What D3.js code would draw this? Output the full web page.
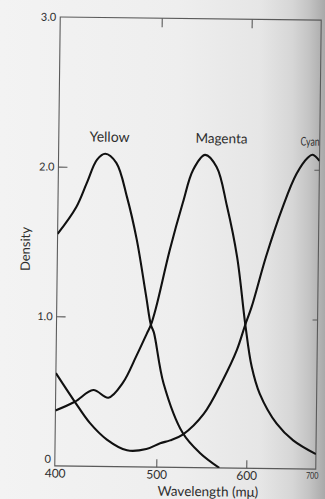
<!DOCTYPE html>
<html>
<head>
<meta charset="utf-8">
<script src="https://cdn.jsdelivr.net/npm/d3@7"></script>
<style>
  html, body { margin: 0; padding: 0; background: #f1f1f1; }
  svg { display: block; }
  text { font-family: "Lato", "Liberation Sans", sans-serif; fill: #2e2e2e; }
</style>
</head>
<body>
<svg id="chart" width="325" height="499"></svg>
<script>
// ---- data ----
const seriesNames = ["Yellow", "Magenta", "Cyan"];

const yellowWavelength = [400, 418, 428, 438, 446, 457, 468, 478, 488, 493, 496, 507, 529, 548, 570];
const yellowDensity    = [1.55, 1.73, 1.89, 2.05, 2.09, 2.03, 1.80, 1.52, 1.14, 0.95, 0.90, 0.56, 0.23, 0.10, 0.0];

const magentaWavelength = [400, 419, 437, 452, 466, 479, 489, 493, 498, 512, 526, 537, 550, 563, 575, 587, 597, 606, 618, 643, 667, 700];
const magentaDensity    = [0.37, 0.43, 0.51, 0.46, 0.56, 0.74, 0.89, 0.95, 1.07, 1.45, 1.77, 1.99, 2.09, 2.01, 1.75, 1.41, 0.96, 0.68, 0.50, 0.30, 0.19, 0.10];

const cyanWavelength = [400, 419, 434, 451, 471, 490, 504, 515, 529, 552, 573, 588, 597, 605, 625, 648, 667, 683, 690, 700];
const cyanDensity    = [0.62, 0.43, 0.29, 0.18, 0.11, 0.12, 0.16, 0.18, 0.22, 0.36, 0.59, 0.79, 0.96, 1.08, 1.42, 1.75, 1.97, 2.08, 2.10, 2.06];

const wavelengthTicks = [400, 500, 600, 700];
const wavelengthTickLabels = ["400", "500", "600", "700"];
const densityTicks = [0, 1, 2, 3];
const densityTickLabels = ["0", "1.0", "2.0", "3.0"];

const xTitle = "Wavelength (m\u03BC)";
const yTitle = "Density";

// ---- layout ----
const svg = d3.select("#chart");
const W = 325, H = 499;
const L = 57.5, R = 318.5, T = 18.5, B = 467.5;

// paper background with darker curl toward the binding
const defs = svg.append("defs");
const grad = defs.append("linearGradient").attr("id", "paper").attr("x1", 0).attr("x2", 1).attr("y1", 0).attr("y2", 0);
[[0, "#f3f3f3"], [0.55, "#eeeeee"], [0.8, "#e6e6e6"], [0.9, "#d6d6d6"], [0.95, "#c4c4c4"], [1, "#a9a9a9"]]
  .forEach(([o, c]) => grad.append("stop").attr("offset", o).attr("stop-color", c));
svg.append("rect").attr("width", W).attr("height", H).attr("fill", "url(#paper)");

defs.append("clipPath").attr("id", "plotclip")
  .append("rect").attr("x", L).attr("y", T).attr("width", R - L).attr("height", B - T);

// scanned page is slightly rotated
const g = svg.append("g").attr("transform", "rotate(0.7 186 243)");

// page curl compresses the right side: polylinear scale
const x = d3.scaleLinear().domain(wavelengthTicks).range([L, 159, 249, R]);
const y = d3.scaleLinear().domain([0, 3]).range([B, T]);

const axisColor = "#5a5a5a";

// frame
g.append("rect").attr("x", L).attr("y", T).attr("width", R - L).attr("height", B - T)
  .attr("fill", "none").attr("stroke", axisColor).attr("stroke-width", 1.1);

// bottom axis (inward ticks)
const xAxisBottom = d3.axisBottom(x).tickValues(wavelengthTicks)
  .tickFormat((d, i) => wavelengthTickLabels[i]).tickSizeInner(-8).tickSizeOuter(0).tickPadding(3);
const gxb = g.append("g").attr("transform", `translate(0,${B})`).call(xAxisBottom);
gxb.select(".domain").remove();
gxb.selectAll(".tick line").attr("stroke", axisColor).attr("stroke-width", 1.1)
  .attr("display", d => (d === 400 || d === 700) ? "none" : null);
gxb.selectAll(".tick text").attr("font-size", 12).attr("fill", "#333")
  .style("font-family", "Lato, sans-serif");
gxb.selectAll(".tick text").filter(d => d === 700)
  .attr("font-size", 9.5).attr("transform", "scale(0.75,1)").attr("x", -4 / 0.75);

// top axis ticks (inward, no labels)
const xAxisTop = d3.axisTop(x).tickValues([500, 600]).tickFormat("").tickSizeInner(-9).tickSizeOuter(0);
const gxt = g.append("g").attr("transform", `translate(0,${T})`).call(xAxisTop);
gxt.select(".domain").remove();
gxt.selectAll(".tick line").attr("stroke", axisColor).attr("stroke-width", 1.1);

// left axis (inward ticks)
const yAxisLeft = d3.axisLeft(y).tickValues(densityTicks)
  .tickFormat((d, i) => densityTickLabels[i]).tickSizeInner(-9).tickSizeOuter(0).tickPadding(4);
const gyl = g.append("g").attr("transform", `translate(${L},0)`).call(yAxisLeft);
gyl.select(".domain").remove();
gyl.selectAll(".tick line").attr("stroke", axisColor).attr("stroke-width", 1.1)
  .attr("display", d => (d === 0 || d === 3) ? "none" : null);
gyl.selectAll(".tick text").attr("font-size", 11).attr("fill", "#333")
  .style("font-family", "Lato, sans-serif");
gyl.selectAll(".tick text").filter(d => d === 0).attr("y", -7);

// right axis ticks (inward, short)
const yAxisRight = d3.axisRight(y).tickValues([1, 2]).tickFormat("").tickSizeInner(-5).tickSizeOuter(0);
const gyr = g.append("g").attr("transform", `translate(${R},0)`).call(yAxisRight);
gyr.select(".domain").remove();
gyr.selectAll(".tick line").attr("stroke", axisColor).attr("stroke-width", 1);

// axis titles
g.append("text").attr("x", 211).attr("y", 496).attr("text-anchor", "middle")
  .attr("font-size", 13.5).text(xTitle);
g.append("text").attr("transform", `translate(30,251) rotate(-90)`).attr("text-anchor", "middle")
  .attr("font-size", 13).text(yTitle);

// curves
const series = [
  { name: seriesNames[0], wl: yellowWavelength, d: yellowDensity },
  { name: seriesNames[1], wl: magentaWavelength, d: magentaDensity },
  { name: seriesNames[2], wl: cyanWavelength, d: cyanDensity }
];
const line = d3.line().x(p => x(p[0])).y(p => y(p[1])).curve(d3.curveCatmullRom.alpha(0.5));
const curves = g.append("g").attr("clip-path", "url(#plotclip)");
series.forEach(s => {
  const pts = s.wl.map((w, i) => [w, s.d[i]]);
  curves.append("path").attr("d", line(pts)).attr("fill", "none")
    .attr("stroke", "#111").attr("stroke-width", 2.1).attr("stroke-linejoin", "round");
});

// curve labels (above peaks)
const labelPos = [[450, 2.17, 14, 1], [568, 2.17, 13.5, 1], [686, 2.16, 12, 0.72]];
series.forEach((s, i) => {
  const [w, dv, fs, sx] = labelPos[i];
  g.append("text")
    .attr("transform", `translate(${x(w)},${y(dv)}) scale(${sx},1)`)
    .attr("text-anchor", "middle").attr("font-size", fs).text(s.name);
});
</script>
</body>
</html>
